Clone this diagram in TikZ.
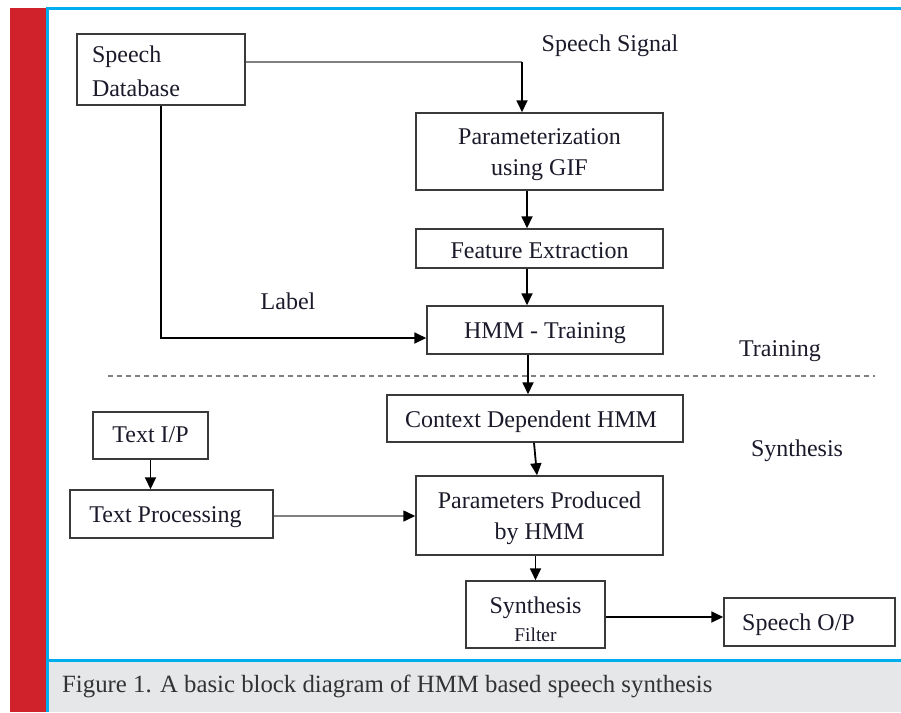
\documentclass[tikz,border=0pt]{standalone}
\usepackage{fontspec}
\setmainfont{Liberation Serif}
\usetikzlibrary{arrows.meta,calc}
\definecolor{barred}{HTML}{D0222B}
\definecolor{frameblue}{HTML}{00AEEF}
\definecolor{capgray}{HTML}{E6E7E9}
\definecolor{boxgray}{HTML}{3A3A3A}
\definecolor{txt}{HTML}{1A1A2A}
\newcommand{\tx}[2][-2.5pt]{\raisebox{#1}[\height][\depth]{\begin{tabular}{@{}c@{}}#2\end{tabular}}}
\newcommand{\txl}[2][-4pt]{\makebox[138pt][l]{\raisebox{#1}[\height][\depth]{\begin{tabular}{@{}l@{}}#2\end{tabular}}}}
\tikzset{
  blk/.style={draw=boxgray, line width=1.5pt, inner sep=0pt, font=\fontsize{24}{31}\selectfont, text=txt},
  arr/.style={draw=black, line width=1.8pt, -{Triangle[length=12pt,width=11pt]}},
  garr/.style={draw=gray, line width=1.6pt, -{Triangle[length=12pt,width=11pt,color=black]}},
  gline/.style={draw=gray, line width=1.6pt},
  lbl/.style={font=\fontsize{24}{28}\selectfont, text=txt, inner sep=0pt},
}
\begin{document}
\begin{tikzpicture}[x=1pt,y=-1pt]
\useasboundingbox (0,0) rectangle (901,712);
% frame
\fill[barred] (10,8) rectangle (45.5,712);
\fill[capgray] (48,661) rectangle (901,712);
\draw[frameblue, line width=2.5pt] (47.5,712) -- (47.5,8.5) -- (901,8.5);
\draw[frameblue, line width=2.5pt] (47.5,660.5) -- (901,660.5);
\node[anchor=west, inner sep=0pt, font=\fontsize{24.8}{28}\selectfont, text=black!80] (cap) at (62,686) {Figure 1. A basic block diagram of HMM based speech synthesis};

% blocks
\node[blk, minimum width=168pt, minimum height=71pt] (sd) at (161,69.5) {\txl{Speech\\[3pt]Database}};
\node[blk, minimum width=247pt, minimum height=77pt] (param) at (539.5,151.5) {\tx{Parameterization\\using GIF}};
\node[blk, minimum width=247pt, minimum height=39pt] (feat) at (539.5,248.5) {\tx[-4pt]{Feature Extraction}};
\node[blk, minimum width=236pt, minimum height=48pt] (hmm) at (545,330) {\tx{HMM - Training}};
\node[blk, minimum width=296pt, minimum height=47pt] (ctx) at (535,418.5) {\hspace*{0pt}\tx{Context Dependent HMM}\hspace*{8pt}};
\node[blk, minimum width=115pt, minimum height=47pt] (tip) at (150.5,435.5) {\tx[-1pt]{Text I/P}};
\node[blk, minimum width=203pt, minimum height=48pt] (tproc) at (171.5,514) {\tx{Text Processing}\hspace*{12pt}};
\node[blk, minimum width=247pt, minimum height=79pt] (params) at (539.5,515.5) {\tx{Parameters Produced\\by HMM}};
\node[blk, minimum width=139pt, minimum height=67pt, font=\fontsize{24}{28}\selectfont] (synth) at (535.5,614.5) {\tx[-7pt]{Synthesis\\{\fontsize{19.5}{19.5}\selectfont Filter}}};
\node[blk, minimum width=171pt, minimum height=48pt] (out) at (809.5,622) {\tx{Speech O/P}\hspace*{22pt}};

% labels
\node[lbl] (sig) at (610,46) {Speech Signal};
\node[lbl] (lab) at (288,301) {Label};
\node[lbl] (train) at (780,351) {Training};
\node[lbl] (syn) at (797,451) {Synthesis};

% dashed separator
\coordinate (dl) at (108,376);
\coordinate (dr) at (875,376);
\draw[gray, line width=1.5pt, dash pattern=on 5pt off 4pt] (dl) -- (dr);

% connectors
\coordinate (corner) at ([xshift=-17.5pt]param.north |- 0,62);
\draw[gline] ([yshift=7.5pt]sd.east) -- (corner);
\draw[arr] (corner) -- ([xshift=-17.5pt]param.north);
\draw[arr] ([xshift=-12.5pt]param.south) -- ([xshift=-12.5pt]feat.north);
\draw[arr] ([xshift=-12.5pt]feat.south) -- ([xshift=-18pt]hmm.north);
\draw[arr] (sd.south) |- ([yshift=-8pt]hmm.west);
\draw[arr] ([xshift=-17pt]hmm.south) -- ([xshift=-7pt]ctx.north);
\draw[arr] ([xshift=-1pt]ctx.south) -- ([xshift=-2.5pt]params.north);
\draw[arr] (tip.south) -- (tip.south |- tproc.north);
\draw[garr] ([yshift=-2pt]tproc.east) -- ([yshift=-2pt]tproc.east -| params.west);
\draw[arr] (synth.north |- params.south) -- (synth.north);
\draw[arr] ([yshift=-2.5pt]synth.east) -- ([yshift=-2.5pt]synth.east -| out.west);
\end{tikzpicture}
\end{document}
